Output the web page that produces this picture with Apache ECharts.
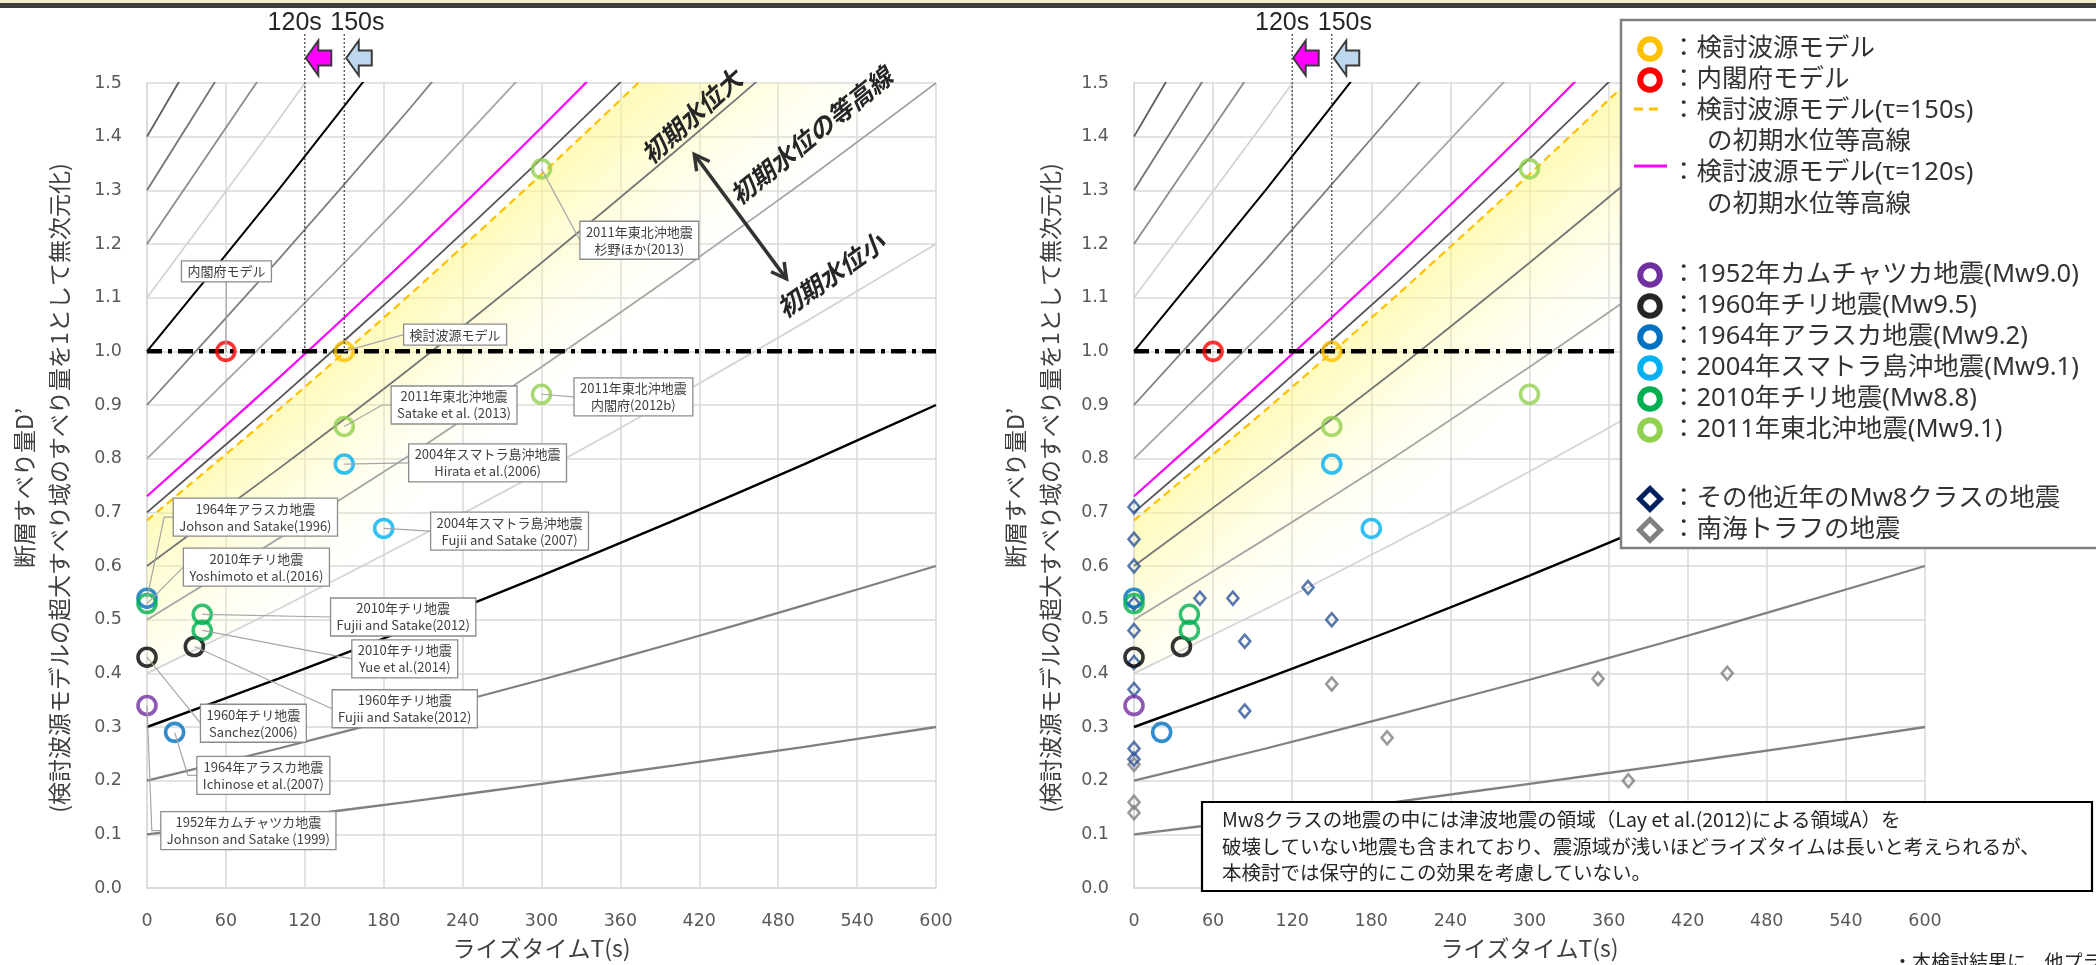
<!DOCTYPE html>
<html>
<head>
<meta charset="utf-8">
<script src="https://cdn.jsdelivr.net/npm/echarts@6/dist/echarts.min.js"></script>
<style>html,body{margin:0;padding:0;background:#fff;}#c{width:2096px;height:965px;}</style>
</head>
<body>
<div id="c"></div>
<script>
// ================= DATA =================
const xTicks = [0, 60, 120, 180, 240, 300, 360, 420, 480, 540, 600];
const yTicks = [0.0, 0.1, 0.2, 0.3, 0.4, 0.5, 0.6, 0.7, 0.8, 0.9, 1.0, 1.1, 1.2, 1.3, 1.4, 1.5];

// rise time sample positions for the contour lines (s)
const contourT = [0, 100, 200, 300, 400, 500, 600];
// initial-water-level contour lines D'(T)
const dSlip_010 = [0.100, 0.130, 0.161, 0.194, 0.228, 0.263, 0.300];
const dSlip_020 = [0.200, 0.260, 0.323, 0.388, 0.456, 0.527, 0.600];
const dSlip_030 = [0.300, 0.390, 0.484, 0.582, 0.684, 0.790, 0.900];
const dSlip_040 = [0.400, 0.520, 0.646, 0.776, 0.912, 1.054, 1.200];
const dSlip_050 = [0.500, 0.651, 0.807, 0.971, 1.141, 1.317, 1.500];
const dSlip_060 = [0.600, 0.781, 0.968, 1.165, 1.369, 1.580, 1.800];
const dSlip_070 = [0.700, 0.911, 1.130, 1.359, 1.597];
const dSlip_080 = [0.800, 1.041, 1.291, 1.553];
const dSlip_090 = [0.900, 1.171, 1.453, 1.747];
const dSlip_100 = [1.000, 1.301, 1.614];
const dSlip_110 = [1.100, 1.431, 1.775];
const dSlip_120 = [1.200, 1.561];
const dSlip_130 = [1.300, 1.691];
const dSlip_140 = [1.400, 1.821];
// model contour lines
const tau120Line = [0.730, 0.950, 1.178, 1.417, 1.665];
const tau150Line = [0.685, 0.891, 1.106, 1.330, 1.562, 1.804, 2.055];
const referenceLevel = 1.0;
const riseTimeMarks = [120, 150];
const riseTimeLabels = ['120s', '150s'];

// earthquake / model points [T(s), D']
const pt_model   = [[150, 1.00]];
const pt_cabinet = [[60, 1.00]];
const pt_1952 = [[0, 0.34]];
const pt_1960 = [[0, 0.43], [36, 0.45]];
const pt_1964 = [[0, 0.54], [21, 0.29]];
const pt_2004 = [[150, 0.79], [180, 0.67]];
const pt_2010 = [[0, 0.53], [42, 0.51], [42, 0.48]];
const pt_2011 = [[300, 1.34], [150, 0.86], [300, 0.92]];
const pt_mw8 = [[0, 0.71], [0, 0.65], [0, 0.60], [0, 0.53], [0, 0.48], [0, 0.42], [0, 0.37], [0, 0.26], [0, 0.24],
                [50, 0.54], [75, 0.54], [84, 0.46], [84, 0.33], [132, 0.56], [150, 0.50]];
const pt_nankai = [[0, 0.23], [0, 0.16], [0, 0.14], [150, 0.38], [192, 0.28], [352, 0.39], [375, 0.20], [450, 0.40]];

// callout texts (left chart) and the point each one points at
const calloutTexts = [
  ['内閣府モデル'],
  ['検討波源モデル'],
  ['2011年東北沖地震', '杉野ほか(2013)'],
  ['2011年東北沖地震', 'Satake et al. (2013)'],
  ['2011年東北沖地震', '内閣府(2012b)'],
  ['2004年スマトラ島沖地震', 'Hirata et al.(2006)'],
  ['2004年スマトラ島沖地震', 'Fujii and Satake (2007)'],
  ['1964年アラスカ地震', 'Johson and Satake(1996)'],
  ['2010年チリ地震', 'Yoshimoto et al.(2016)'],
  ['2010年チリ地震', 'Fujii and Satake(2012)'],
  ['2010年チリ地震', 'Yue et al.(2014)'],
  ['1960年チリ地震', 'Fujii and Satake(2012)'],
  ['1960年チリ地震', 'Sanchez(2006)'],
  ['1964年アラスカ地震', 'Ichinose et al.(2007)'],
  ['1952年カムチャツカ地震', 'Johnson and Satake (1999)']
];
const calloutRefs = [
  [pt_cabinet, 0], [pt_model, 0], [pt_2011, 0], [pt_2011, 1], [pt_2011, 2], [pt_2004, 0], [pt_2004, 1],
  [pt_1964, 0], [pt_2010, 0], [pt_2010, 1], [pt_2010, 2], [pt_1960, 1], [pt_1960, 0], [pt_1964, 1], [pt_1952, 0]
];

const bigLabels = ['初期水位大', '初期水位の等高線', '初期水位小'];
const legendLabels = [
  ['：検討波源モデル'], ['：内閣府モデル'],
  ['：検討波源モデル(τ=150s)', 'の初期水位等高線'],
  ['：検討波源モデル(τ=120s)', 'の初期水位等高線'],
  ['：1952年カムチャツカ地震(Mw9.0)'], ['：1960年チリ地震(Mw9.5)'], ['：1964年アラスカ地震(Mw9.2)'],
  ['：2004年スマトラ島沖地震(Mw9.1)'], ['：2010年チリ地震(Mw8.8)'], ['：2011年東北沖地震(Mw9.1)'],
  ['：その他近年のMw8クラスの地震'], ['：南海トラフの地震']
];
const noteLines = [
  'Mw8クラスの地震の中には津波地震の領域（Lay et al.(2012)による領域A）を',
  '破壊していない地震も含まれており、震源域が浅いほどライズタイムは長いと考えられるが、',
  '本検討では保守的にこの効果を考慮していない。'
];
const footText = '・本検討結果に、他プラントの東北沖地震';
const xTitle = 'ライズタイムT(s)';
const yTitle1 = '断層すべり量D’';
const yTitle2 = '(検討波源モデルの超大すべり域のすべり量を1として無次元化)';

// ================= STYLE / LAYOUT =================
const FJ = '"Noto Sans CJK JP", sans-serif';
const FL = '"Noto Sans", "Noto Sans CJK JP", sans-serif';
const contourSets = [dSlip_010, dSlip_020, dSlip_030, dSlip_040, dSlip_050, dSlip_060, dSlip_070,
                     dSlip_080, dSlip_090, dSlip_100, dSlip_110, dSlip_120, dSlip_130, dSlip_140];
const contourColors = ['#808080', '#808080', '#000000', '#d4d4d4', '#a6a6a6', '#767676', '#555555',
                       '#a6a6a6', '#808080', '#000000', '#d4d4d4', '#8c8c8c', '#747474', '#5a5a5a'];
const contourWidths = [2.4, 2.2, 2.4, 1.8, 1.8, 1.8, 1.8, 1.8, 1.8, 2.0, 1.8, 1.8, 1.8, 1.8];
const circleSets = [pt_model, pt_cabinet, pt_1952, pt_1960, pt_1964, pt_2004, pt_2010, pt_2011];
const circleColors = ['#ffc000', '#ff0000', '#7030a0', '#000000', '#0070c0', '#00b0f0', '#00b050', '#92d050'];
const grids = [
  { left: 147, top: 83, width: 789, height: 811 },
  { left: 1134, top: 83, width: 791, height: 811 }
];
// callout box centres (data coords) and leader style
const calloutBoxAt = [[60.4, 1.149], [234.3, 1.031], [374.4, 1.207], [233.5, 0.900], [369.9, 0.915], [259, 0.792],
  [275.7, 0.665], [82.4, 0.691], [83.2, 0.598], [194.8, 0.505], [196, 0.427], [196, 0.334], [80.9, 0.307],
  [88.5, 0.210], [77.1, 0.107]];
const calloutLeader = ['bottom', 'left', 'left', 'elbow', 'left', 'left', 'left', 'elbow', 'left', 'left', 'left',
  'left', 'left', 'elbow', 'elbow'];
const bigLabelAt = [[414, 1.438, 42], [505, 1.402, 39], [520, 1.142, 35]];
const dblArrowAt = [[416.2, 1.367], [486.3, 1.135]];

function fillRender(params, api) {
  const top = tau150Line.map((v, i) => api.coord([contourT[i], v]));
  const bot = dSlip_040.map((v, i) => api.coord([contourT[i], v])).reverse();
  const cs = params.coordSys;
  const p0 = api.coord([contourT[0], tau150Line[0]]);
  const p1 = api.coord([contourT[2], tau150Line[2]]);
  let dx = p1[0] - p0[0], dy = p1[1] - p0[1];
  const L = Math.hypot(dx, dy); dx /= L; dy /= L;
  const nx = -dy, ny = dx, len = 190;
  const grad = new echarts.graphic.LinearGradient(p0[0], p0[1], p0[0] + nx * len, p0[1] + ny * len, [
    { offset: 0, color: 'rgba(255,248,140,0.58)' },
    { offset: 0.35, color: 'rgba(255,250,160,0.35)' },
    { offset: 0.7, color: 'rgba(255,252,200,0.15)' },
    { offset: 1, color: 'rgba(255,255,255,0)' }
  ], true);
  return {
    type: 'group',
    clipPath: { type: 'rect', shape: { x: cs.x, y: cs.y, width: cs.width, height: cs.height } },
    children: [{ type: 'polygon', shape: { points: top.concat(bot) }, style: { fill: grad } }]
  };
}

function buildSeries(g) {
  const s = [];
  const ax = { xAxisIndex: g, yAxisIndex: g };
  s.push(Object.assign({ type: 'custom', data: [0], z: 1, silent: true, renderItem: fillRender }, ax));
  contourSets.forEach((arr, i) => s.push(Object.assign({
    type: 'line', data: arr.map((v, j) => [contourT[j], v]), symbol: 'none', smooth: 0.2, clip: true, silent: true,
    lineStyle: { color: contourColors[i], width: contourWidths[i] }, z: 2
  }, ax)));
  s.push(Object.assign({ type: 'line', data: tau120Line.map((v, j) => [contourT[j], v]), symbol: 'none', smooth: 0.2,
    clip: true, silent: true, lineStyle: { color: '#ff00ff', width: 2.2 }, z: 3 }, ax));
  s.push(Object.assign({ type: 'line', data: tau150Line.map((v, j) => [contourT[j], v]), symbol: 'none', smooth: 0.2,
    clip: true, silent: true, lineStyle: { color: '#ffc000', width: 2.2, type: [8, 5] }, z: 3 }, ax));
  s.push(Object.assign({ type: 'line', data: [[xTicks[0], referenceLevel], [xTicks[xTicks.length - 1], referenceLevel]],
    symbol: 'none', silent: true, lineStyle: { color: '#000', width: 4.5, type: [15, 6, 4, 6] }, z: 4 }, ax));
  if (g === 1) {
    s.push(Object.assign({ type: 'scatter', data: pt_nankai, symbol: 'diamond', symbolSize: [11, 13], silent: true,
      itemStyle: { color: 'rgba(0,0,0,0)', borderColor: '#808080', borderWidth: 2.6 }, z: 5 }, ax));
    s.push(Object.assign({ type: 'scatter', data: pt_mw8, symbol: 'diamond', symbolSize: [11, 13], silent: true,
      itemStyle: { color: 'rgba(0,0,0,0)', borderColor: '#2f5597', borderWidth: 2.6 }, z: 6 }, ax));
  }
  circleSets.forEach((arr, i) => s.push(Object.assign({
    type: 'scatter', data: arr, symbol: 'circle', symbolSize: 18, silent: true,
    itemStyle: { color: 'rgba(0,0,0,0)', borderColor: circleColors[i], borderWidth: 3.6 }, z: 7
  }, ax)));
  return s;
}

const chart = echarts.init(document.getElementById('c'), null, { renderer: 'canvas', width: 2096, height: 965 });
const axisCommon = {
  type: 'value', axisTick: { show: false },
  axisLine: { show: true, lineStyle: { color: '#d9d9d9', width: 1.5 } },
  splitLine: { show: true, lineStyle: { color: '#d9d9d9', width: 1.5 } }
};
const option = {
  animation: false,
  backgroundColor: '#fff',
  grid: grids,
  xAxis: [0, 1].map(g => Object.assign({}, axisCommon, {
    gridIndex: g, min: xTicks[0], max: xTicks[xTicks.length - 1], interval: xTicks[1] - xTicks[0],
    axisLabel: { color: '#595959', fontSize: 17.5, fontFamily: '"DejaVu Sans", sans-serif', margin: 24 },
    name: xTitle, nameLocation: 'middle', nameGap: 49,
    nameTextStyle: { color: '#404040', fontSize: 23, fontFamily: FJ }
  })),
  yAxis: [0, 1].map(g => Object.assign({}, axisCommon, {
    gridIndex: g, min: yTicks[0], max: yTicks[yTicks.length - 1], interval: 0.1,
    axisLabel: { color: '#595959', fontSize: 17.5, fontFamily: '"DejaVu Sans", sans-serif', margin: 25,
      formatter: v => v.toFixed(1) }
  })),
  series: buildSeries(0).concat(buildSeries(1))
};
chart.setOption(option);

// ================= ANNOTATIONS (graphic) =================
const P = (g, x, y) => chart.convertToPixel({ gridIndex: g }, [x, y]);
const G = [];
function text(x, y, t, st, rot, z) {
  G.push({ type: 'text', x: x, y: y, rotation: rot || 0, z: z || 50, silent: true,
    style: Object.assign({ text: t, fill: '#404040', fontSize: 13, fontFamily: FJ, align: 'left', verticalAlign: 'middle' }, st || {}) });
}
function line(x1, y1, x2, y2, st, z) {
  G.push({ type: 'line', z: z || 50, silent: true, shape: { x1, y1, x2, y2 }, style: Object.assign({ stroke: '#404040', lineWidth: 1 }, st || {}) });
}
function poly(pts, st, z, closed) {
  G.push({ type: closed ? 'polygon' : 'polyline', z: z || 50, silent: true, shape: { points: pts }, style: st });
}
const cv = document.createElement('canvas').getContext('2d');
function measure(t, font) { cv.font = font; return cv.measureText(t).width; }

// slide top border
G.push({ type: 'rect', z: 90, silent: true, shape: { x: 0, y: 0, width: 2096, height: 3 }, style: { fill: '#f6ebc8' } });
G.push({ type: 'rect', z: 90, silent: true, shape: { x: 0, y: 3, width: 2096, height: 5 }, style: { fill: '#3c3c3c' } });

// rise-time marks, dotted lines and arrows for both charts
[0, 1].forEach(g => {
  const xa = P(g, riseTimeMarks[0], referenceLevel);
  const xb = P(g, riseTimeMarks[1], referenceLevel);
  line(xa[0], 34, xa[0], xa[1], { stroke: '#404040', lineWidth: 1.2, lineDash: [2, 2] }, 40);
  line(xb[0], 34, xb[0], xb[1], { stroke: '#404040', lineWidth: 1.2, lineDash: [2, 2] }, 40);
  text(xa[0] + 17, 23, riseTimeLabels[0], { fontSize: 25, fontFamily: '"Liberation Sans", sans-serif', fill: '#262626', align: 'right' });
  text(xb[0] - 14, 23, riseTimeLabels[1], { fontSize: 25, fontFamily: '"Liberation Sans", sans-serif', fill: '#262626', align: 'left' });
  const arrow = (tx, fill) => {
    const ty = 58;
    const rel = [[0, 0], [12.5, -17.5], [12.5, -7.5], [25.5, -7.5], [25.5, 7.5], [12.5, 7.5], [12.5, 17.5]];
    poly(rel.map(p => [tx + p[0], ty + p[1]]), { fill: fill, stroke: '#3a3a3a', lineWidth: 2 }, 45, true);
  };
  arrow(xa[0] + 1, '#ff00ff');
  arrow(xb[0] + 2, '#bdd7ee');
});

// y-axis titles
[[24, 59], [1015, 1050]].forEach(xs => {
  text(xs[0], 488, yTitle1, { fontSize: 23, align: 'center', fill: '#404040' }, Math.PI / 2);
  text(xs[1], 488, yTitle2, { fontSize: 23, align: 'center', fill: '#404040' }, Math.PI / 2);
});

// callouts (left chart)
const CF = '13px "Noto Sans CJK JP"';
calloutTexts.forEach((lines, i) => {
  const ref = calloutRefs[i];
  const tp = P(0, ref[0][ref[1]][0], ref[0][ref[1]][1]);
  const c = P(0, calloutBoxAt[i][0], calloutBoxAt[i][1]);
  const w = Math.max.apply(null, lines.map(t => measure(t, CF))) + 12;
  const lh = 17;
  const h = lines.length * lh + 4;
  const bx = c[0] - w / 2, by = c[1] - h / 2;
  const lead = calloutLeader[i];
  let pts;
  if (lead === 'bottom') pts = [tp, [c[0], by + h]];
  else if (lead === 'elbow') pts = [tp, [bx - 9, c[1]], [bx, c[1]]];
  else pts = [tp, [bx, c[1]]];
  poly(pts, { stroke: '#a6a6a6', lineWidth: 1.2, fill: null }, 55, false);
  G.push({ type: 'rect', z: 56, silent: true, shape: { x: bx, y: by, width: w, height: h },
    style: { fill: '#fff', stroke: '#8c8c8c', lineWidth: 1.3 } });
  lines.forEach((t, k) => text(c[0], c[1] + (k - (lines.length - 1) / 2) * lh, t,
    { fontSize: 13, align: 'center', fill: '#404040' }, 0, 57));
});

// rotated big labels and double arrow (left chart)
bigLabels.forEach((t, i) => {
  const p = P(0, bigLabelAt[i][0], bigLabelAt[i][1]);
  text(p[0], p[1], t, { fontSize: 25, fontWeight: 'bold', fontStyle: 'italic', align: 'center', fill: '#262626' },
    bigLabelAt[i][2] * Math.PI / 180, 58);
});
(function () {
  const a = P(0, dblArrowAt[0][0], dblArrowAt[0][1]);
  const b = P(0, dblArrowAt[1][0], dblArrowAt[1][1]);
  line(a[0], a[1], b[0], b[1], { stroke: '#333', lineWidth: 3.5 }, 58);
  const head = (tip, dir) => {
    const ang = Math.atan2(dir[1], dir[0]);
    const L = 17, sp = 0.5;
    const p1 = [tip[0] - L * Math.cos(ang - sp), tip[1] - L * Math.sin(ang - sp)];
    const p2 = [tip[0] - L * Math.cos(ang + sp), tip[1] - L * Math.sin(ang + sp)];
    poly([p1, tip, p2], { stroke: '#333', lineWidth: 3.5, fill: null }, 58, false);
  };
  head(a, [a[0] - b[0], a[1] - b[1]]);
  head(b, [b[0] - a[0], b[1] - a[1]]);
})();

// legend (right chart)
G.push({ type: 'rect', z: 60, silent: true, shape: { x: 1621, y: 20, width: 500, height: 528 },
  style: { fill: '#fff', stroke: '#808080', lineWidth: 2.5 } });
const legendRowY = [49, 80, 111, 142, 173, 205, 275, 306, 337, 368, 399, 430, 499, 530];
const legendRowOf = [[0], [1], [2, 3], [4, 5], [6], [7], [8], [9], [10], [11], [12], [13]];
const legendMarker = ['ring', 'ring', 'dash', 'line', 'ring', 'ring', 'ring', 'ring', 'ring', 'ring', 'diamond', 'diamond'];
const legendColor = ['#ffc000', '#ff0000', '#ffc000', '#ff00ff', '#7030a0', '#262626', '#0070c0', '#00b0f0', '#00b050', '#92d050', '#002060', '#808080'];
legendLabels.forEach((lines, i) => {
  const rows = legendRowOf[i];
  const y0 = legendRowY[rows[0]];
  const mx = 1650, col = legendColor[i];
  if (legendMarker[i] === 'ring') {
    G.push({ type: 'circle', z: 61, silent: true, shape: { cx: mx, cy: y0, r: 9.8 }, style: { fill: 'none', stroke: col, lineWidth: 6 } });
  } else if (legendMarker[i] === 'dash') {
    line(mx - 16, y0 - 2, mx + 14, y0 - 2, { stroke: col, lineWidth: 3, lineDash: [9, 6] }, 61);
  } else if (legendMarker[i] === 'line') {
    line(mx - 16, y0 - 7, mx + 17, y0 - 7, { stroke: col, lineWidth: 3 }, 61);
  } else {
    const d = 10.5;
    poly([[mx, y0 - d], [mx + d, y0], [mx, y0 + d], [mx - d, y0]], { fill: 'none', stroke: col, lineWidth: 5 }, 61, true);
  }
  lines.forEach((t, k) => text(k === 0 ? 1671 : 1707, legendRowY[rows[k]], t,
    { fontSize: 25.5, fontFamily: FL, fill: '#333333' }, 0, 62));
});

// note box (right chart)
G.push({ type: 'rect', z: 60, silent: true, shape: { x: 1202, y: 802, width: 890, height: 89 },
  style: { fill: '#fff', stroke: '#000', lineWidth: 2.2 } });
noteLines.forEach((t, k) => text(1222, 820 + k * 26.5, t, { fontSize: 19.5, fontFamily: FJ, fill: '#262626' }, 0, 61));

// cut-off footer text
text(1893, 962, footText, { fontSize: 19, fontFamily: FJ, fill: '#262626' }, 0, 61);

chart.setOption({ graphic: { elements: G } });
</script>
</body>
</html>
